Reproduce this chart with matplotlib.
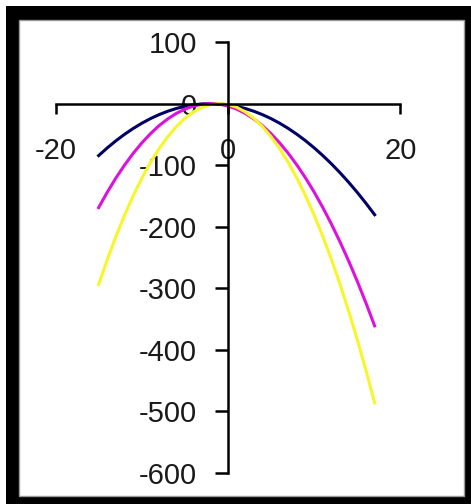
import matplotlib
matplotlib.use("Agg")
import matplotlib.pyplot as plt
from matplotlib.patches import Rectangle

# -----------------------------
# Data
# -----------------------------
x_vals = list(range(-15, 18))
navy_vals = [-84.5, -72, -60.5, -50, -40.5, -32, -24.5, -18, -12.5, -8, -4.5, -2, -0.5, 0,
             -0.5, -2, -4.5, -8, -12.5, -18, -24.5, -32, -40.5, -50, -60.5, -72, -84.5,
             -98, -112.5, -128, -144.5, -162, -180.5]
magenta_vals = [-169, -144, -121, -100, -81, -64, -49, -36, -25, -16, -9, -4, -1, 0,
                -1, -4, -9, -16, -25, -36, -49, -64, -81, -100, -121, -144, -169,
                -196, -225, -256, -289, -324, -361]
yellow_vals = [-294, -253.5, -216, -181.5, -150, -121.5, -96, -73.5, -54, -37.5, -24, -13.5, -6, -1.5,
               0, -1.5, -6, -13.5, -24, -37.5, -54, -73.5, -96, -121.5, -150, -181.5, -216,
               -253.5, -294, -337.5, -384, -433.5, -486]

x_ticks = [-20, 0, 20]
x_tick_labels = ["-20", "0", "20"]
y_ticks = [100, 0, -100, -200, -300, -400, -500, -600]
y_tick_labels = ["100", "0", "-100", "-200", "-300", "-400", "-500", "-600"]

# -----------------------------
# Figure and frame
# -----------------------------
W, H = 471, 504
plt.rcParams['font.family'] = ['Liberation Sans', 'DejaVu Sans']
plt.rcParams['axes.unicode_minus'] = False

fig = plt.figure(figsize=(W / 100, H / 100), dpi=100)
fig.patch.set_facecolor("white")


def px_rect(x0, y0, x1, y1, **kw):
    # rectangle given in pixel coords measured from the top-left corner
    return Rectangle((x0 / W, 1 - y1 / H), (x1 - x0) / W, (y1 - y0) / H,
                     transform=fig.transFigure, zorder=-10, **kw)


fig.patches.append(px_rect(6, 6, W, H, facecolor="black", edgecolor="none"))
fig.patches.append(px_rect(19, 20, 464, 496, facecolor="white", edgecolor="#9a9a9a", linewidth=1))

# -----------------------------
# Axes crossing at the origin
# -----------------------------
ax = fig.add_axes([55.5 / W, 1 - 473 / H, 345 / W, 431 / H])
ax.set_facecolor("none")

ax.plot(x_vals, navy_vals, color="#000066", linewidth=2.2)
ax.plot(x_vals, magenta_vals, color="#dd11dd", linewidth=2.2)
ax.plot(x_vals, yellow_vals, color="#f6f628", linewidth=2.2)

ax.set_xlim(-20, 20)
ax.set_ylim(-600, 100)

for side in ["top", "right"]:
    ax.spines[side].set_visible(False)
ax.spines["left"].set_position(("data", 0))
ax.spines["bottom"].set_position(("data", 0))
for side in ["left", "bottom"]:
    ax.spines[side].set_linewidth(1.8)
    ax.spines[side].set_color("black")

ax.set_xticks(x_ticks)
ax.set_xticklabels(x_tick_labels)
ax.set_yticks(y_ticks)
ax.set_yticklabels(y_tick_labels)

ax.tick_params(axis="y", direction="out", length=9.4, width=1.8, pad=13,
               labelsize=21, labelcolor="#1a1a1a")
ax.tick_params(axis="x", direction="out", length=7, width=1.8, pad=17,
               labelsize=21, labelcolor="#1a1a1a")

fig.savefig("out.png", dpi=100)
